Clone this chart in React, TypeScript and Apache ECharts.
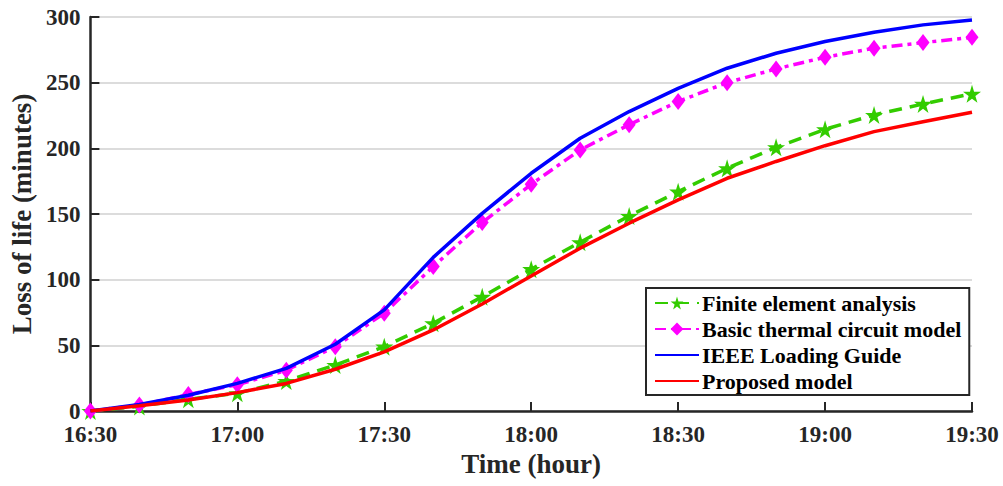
import React, { useEffect, useRef } from "react";
import * as echarts from "echarts";

// Minutes after 16:30, sampled every 10 minutes
const minutes = [0, 10, 20, 30, 40, 50, 60, 70, 80, 90, 100, 110, 120, 130, 140, 150, 160, 170, 180];

// Tick labels for the time axis (every 30 minutes)
const timeLabels = ["16:30", "17:00", "17:30", "18:00", "18:30", "19:00", "19:30"];

// Loss of life (minutes) for each method
const feaValues = [0, 3.5, 9, 13.5, 22.8, 35, 49, 66.8, 87, 108, 128.5, 148.5, 167, 184.8, 200.8, 214.5, 225.4, 233.8, 241.5];
const thermalValues = [0, 4.5, 12.5, 20, 31, 49, 74.5, 110, 143.5, 172.6, 198.8, 218, 235.6, 250, 260.5, 269.4, 276.2, 280.5, 284.5];
const ieeeValues = [0, 5, 12, 21, 32.5, 50.8, 77, 117, 150.5, 181, 207.7, 228, 245.7, 261, 272.4, 281.3, 288.4, 294, 297.8];
const proposedValues = [0, 4, 8.4, 14, 21, 31.8, 45, 61.7, 81.5, 102.8, 124, 143, 160.7, 177.2, 190, 202, 212.7, 220.3, 227.5];

const seriesNames = [
  "Finite element analysis",
  "Basic thermal circuit model",
  "IEEE Loading Guide",
  "Proposed model",
];

const FONT = '"Liberation Serif", "Times New Roman", serif';
const STAR = "path://M50,0 L61,35 L98,35 L68,57 L79,91 L50,70 L21,91 L32,57 L2,35 L39,35 Z";
const INK = "#262626";

const pairs = (vals: number[]) => minutes.map((m, i) => [m, vals[i]]);

export default function App() {
  const ref = useRef<HTMLDivElement>(null);

  useEffect(() => {
    if (!ref.current) return;
    const chart = echarts.init(ref.current, undefined, { renderer: "svg" });
    chart.setOption({
      animation: false,
      backgroundColor: "#ffffff",
      grid: { left: 87, right: 31, top: 17, bottom: 75, containLabel: false },
      legend: {
        left: 646,
        top: 288,
        orient: "vertical",
        data: [
          { name: seriesNames[0] },
          { name: seriesNames[1] },
          { name: seriesNames[2], itemStyle: { opacity: 0 } },
          { name: seriesNames[3], itemStyle: { opacity: 0 } },
        ],
        backgroundColor: "#ffffff",
        borderColor: INK,
        borderWidth: 2,
        borderRadius: 0,
        padding: [4, 8, 3, 8],
        itemGap: 4,
        itemWidth: 44,
        itemHeight: 16,
        textStyle: {
          fontFamily: FONT,
          fontWeight: "bold",
          fontSize: 22,
          color: "#000000",
          padding: [0, 0, 0, -2],
        },
      },
      xAxis: {
        type: "value",
        min: 0,
        max: 180,
        interval: 30,
        name: "Time (hour)",
        nameLocation: "middle",
        nameGap: 36,
        nameTextStyle: { fontFamily: FONT, fontWeight: "bold", fontSize: 27, color: INK },
        axisLine: { lineStyle: { color: INK, width: 2.5 } },
        axisTick: { inside: true, length: 9, lineStyle: { color: INK, width: 2 } },
        axisLabel: {
          fontFamily: FONT,
          fontWeight: "bold",
          fontSize: 23,
          color: INK,
          margin: 12,
          formatter: (v: number) => timeLabels[Math.round(v / 30)] ?? "",
        },
        splitLine: { show: false },
      },
      yAxis: {
        type: "value",
        min: 0,
        max: 300,
        interval: 50,
        name: "Loss of life (minutes)",
        nameLocation: "middle",
        nameGap: 55,
        nameTextStyle: { fontFamily: FONT, fontWeight: "bold", fontSize: 27, color: INK },
        axisLine: { show: true, lineStyle: { color: INK, width: 2.5 } },
        axisTick: { show: true, inside: true, length: 9, lineStyle: { color: INK, width: 2 } },
        axisLabel: {
          fontFamily: FONT,
          fontWeight: "bold",
          fontSize: 23,
          color: INK,
          margin: 10,
        },
        splitLine: { show: true, lineStyle: { color: "#dcdcdc", width: 2 } },
      },
      series: [
        {
          name: seriesNames[0],
          type: "line",
          data: pairs(feaValues),
          symbol: STAR,
          symbolSize: 18,
          showAllSymbol: true,
          itemStyle: { color: "#33cc00" },
          lineStyle: { color: "#33cc00", width: 3.5, type: [13, 8] },
          z: 2,
        },
        {
          name: seriesNames[1],
          type: "line",
          data: pairs(thermalValues),
          symbol: "diamond",
          symbolSize: [13, 17],
          itemStyle: { color: "#ff00ff" },
          lineStyle: { color: "#ff00ff", width: 3.5, type: [11, 5, 4, 5] },
          z: 3,
        },
        {
          name: seriesNames[2],
          type: "line",
          data: pairs(ieeeValues),
          symbol: "none",
          itemStyle: { color: "#0000ff" },
          lineStyle: { color: "#0000ff", width: 3.5 },
          z: 4,
        },
        {
          name: seriesNames[3],
          type: "line",
          data: pairs(proposedValues),
          symbol: "none",
          itemStyle: { color: "#ff0000" },
          lineStyle: { color: "#ff0000", width: 3.5 },
          z: 5,
        },
      ],
    });
    return () => chart.dispose();
  }, []);

  return (
    <div
      ref={ref}
      style={{ position: "absolute", left: 0, top: 0, width: 1003, height: 486, background: "#fff" }}
    />
  );
}
